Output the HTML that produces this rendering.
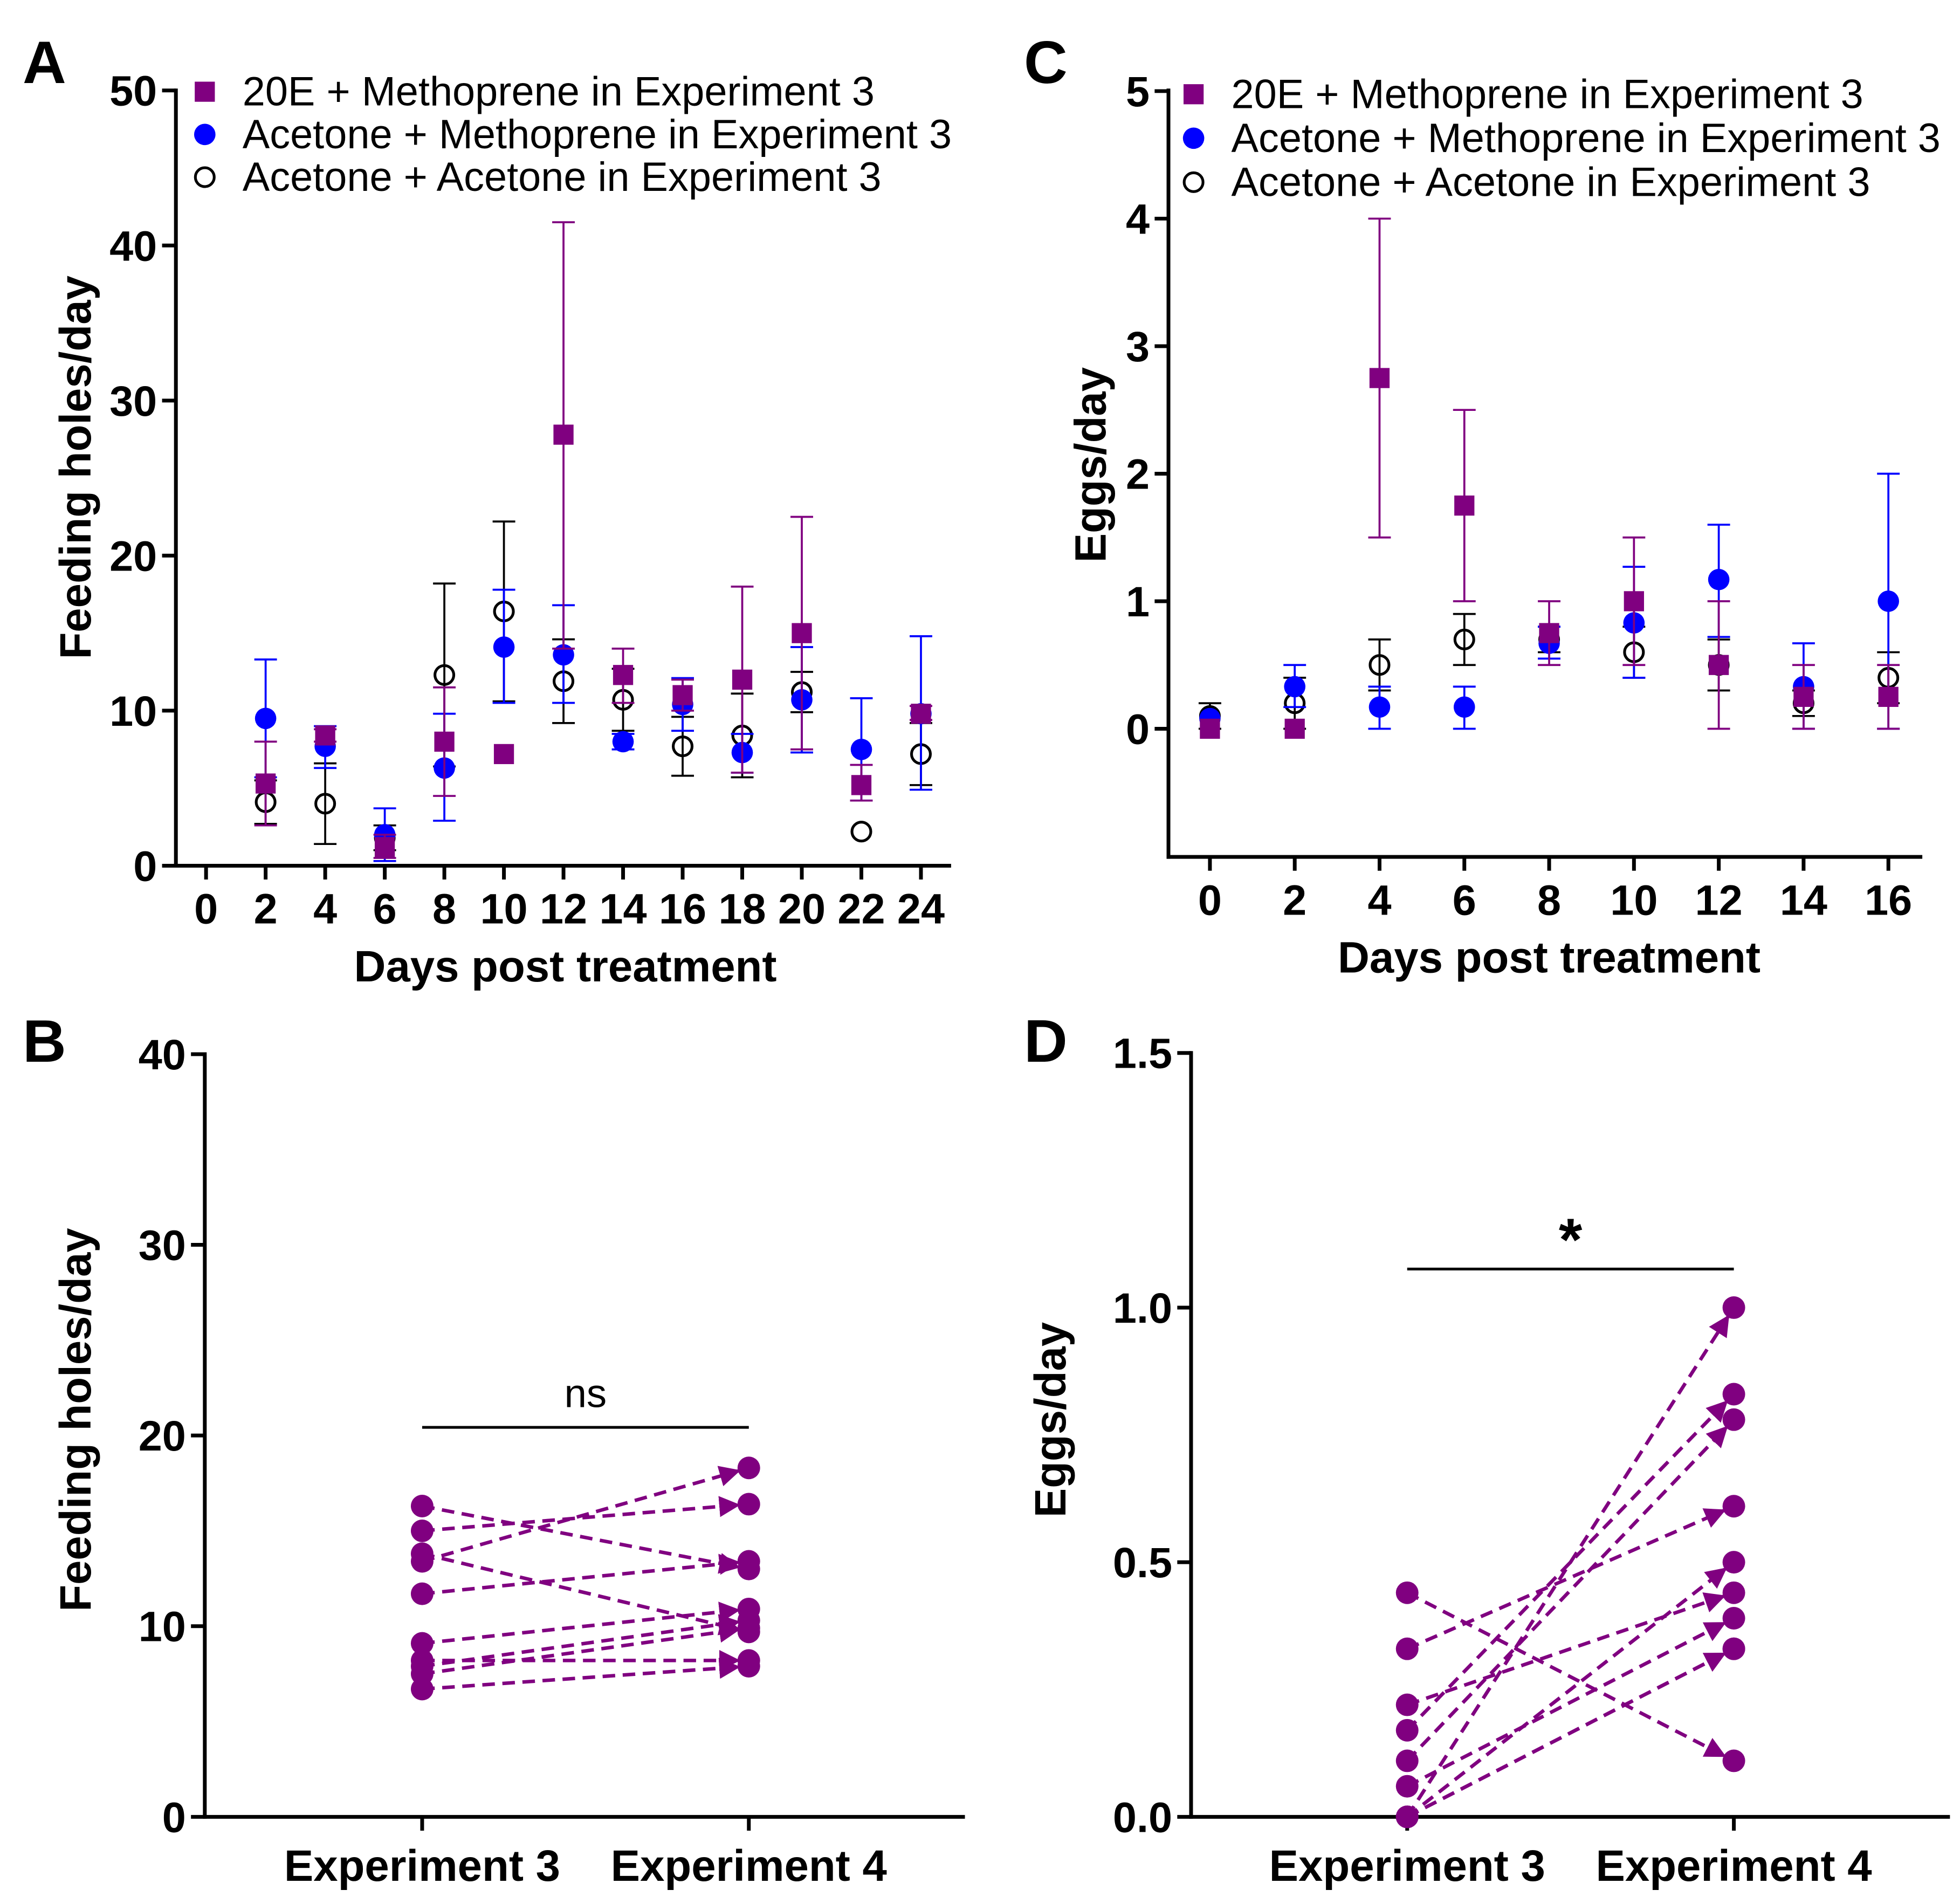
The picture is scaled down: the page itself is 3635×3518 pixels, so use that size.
<!DOCTYPE html>
<html><head><meta charset="utf-8"><style>
html,body{margin:0;padding:0;background:#fff}
svg{display:block}
text{font-family:"Liberation Sans",Arial,sans-serif}
</style></head><body>
<svg id="fig" xmlns="http://www.w3.org/2000/svg" width="3635" height="3518" viewBox="0 0 1560 1509.8" preserveAspectRatio="none">
<defs>
<marker id="arr" markerWidth="6" markerHeight="6" refX="5.2" refY="3" orient="auto" markerUnits="strokeWidth"><path d="M0,0 L6,3 L0,6 z" fill="#800080"/></marker>
</defs>
<g id="root"></g>
</svg>
<script>
// ---------- Panel A data ----------
const daysA = [2,4,6,8,10,12,14,16,18,20,22,24];
const aE20 = [5.3,8.4,1.2,8,7.2,27.8,12.3,11,12,15,5.2,9.8];
const aE20Lo = [2.6,8.0,0.5,4.5,7.2,14,10.5,10,6,7.5,4.2,9.4];
const aE20Hi = [8,8.8,2,11.5,7.2,41.5,14,12,18,22.5,6.5,10.3];
const aBlue = [9.5,7.7,2,6.3,14.1,13.6,8,10.4,7.3,10.7,7.5,9.8];
const aBlueLo = [5.7,6.3,0.3,2.9,10.5,10.5,7.5,8.7,6,7.3,4.2,4.9];
const aBlueHi = [13.3,9,3.7,9.8,17.8,16.8,8.5,12.1,8.5,14.1,10.8,14.8];
const aOpen = [4.1,4,1.8,12.3,16.4,11.9,10.7,7.7,8.4,11.2,2.2,7.2];
const aOpenLo = [2.7,1.4,1,6.4,10.6,9.2,8.7,5.8,5.7,9.9,2.2,5.2];
const aOpenHi = [5.5,6.6,2.6,18.2,22.2,14.6,12.7,9.6,11.1,12.5,2.2,9.2];
const ticksAx = [0,2,4,6,8,10,12,14,16,18,20,22,24];
const ticksAy = [0,10,20,30,40,50];
// ---------- Panel C data ----------
const daysC = [0,2,4,6,8,10,12,14,16];
const cE20 = [0,0,2.75,1.75,0.75,1,0.5,0.25,0.25];
const cE20Lo = [0,0,1.5,1,0.5,0.5,0,0,0];
const cE20Hi = [0,0,4,2.5,1,1.5,1,0.5,0.5];
const cBlue = [0.08,0.33,0.17,0.17,0.67,0.83,1.17,0.33,1];
const cBlueLo = [0.08,0.17,0,0,0.55,0.4,0.72,0,0];
const cBlueHi = [0.08,0.5,0.33,0.33,0.8,1.27,1.6,0.67,2];
const cOpen = [0.1,0.2,0.5,0.7,0.7,0.6,0.5,0.2,0.4];
const cOpenLo = [0,0,0.3,0.5,0.6,0.4,0.3,0.1,0.2];
const cOpenHi = [0.2,0.4,0.7,0.9,0.8,0.8,0.7,0.3,0.6];
const ticksCx = [0,2,4,6,8,10,12,14,16];
const ticksCy = [0,1,2,3,4,5];
// ---------- Panel B data ----------
const bExp3 = [16.3,15.0,13.8,13.4,11.7,9.1,8.2,7.9,7.5,6.7];
const bExp4 = [13.0,16.4,9.7,18.3,13.4,10.9,8.2,10.3,9.9,7.9];
const ticksBy = [0,10,20,30,40];
// ---------- Panel D data ----------
const dExp3 = [0.44,0.33,0.22,0.17,0.11,0.06,0,0,0,0];
const dExp4 = [0.11,0.61,0.44,0.83,0.78,0.39,1.0,0.5,0.33,0.33];
const ticksDy = [0,0.5,1.0,1.5];
const groups = ["Experiment 3","Experiment 4"];
const legendLabels = ["20E + Methoprene in Experiment 3","Acetone + Methoprene in Experiment 3","Acetone + Acetone in Experiment 3"];

const NS="http://www.w3.org/2000/svg";
const root=document.getElementById('root');
const PUR="#800080", BLU="#0000ff";
function mk(tag,attrs,parent){const e=document.createElementNS(NS,tag);for(const k in attrs)e.setAttribute(k,attrs[k]);(parent||root).appendChild(e);return e;}
function txt(s,x,y,size,weight,anchor,parent,rot){const t=mk('text',{x:x,y:y,'font-size':size,'font-weight':weight,'text-anchor':anchor},parent);if(rot)t.setAttribute('transform','rotate(-90 '+x+' '+y+')');t.textContent=s;return t;}
function lin(x1,y1,x2,y2,c,w,parent){return mk('line',{x1:x1,y1:y1,x2:x2,y2:y2,stroke:c,'stroke-width':w},parent);}

function axes(g,o){
  const ax=mk('g',{},g);
  
  
  lin(o.x0,o.yTop-1.5,o.x0,o.yBot+1.5,'#000',3,ax);
  lin(o.x0-1.5,o.yBot,o.x1,o.yBot,'#000',3,ax);
  o.yticks.forEach(v=>{const y=o.sy(v);lin(o.x0-11,y,o.x0,y,'#000',3,ax);
    const t=txt(o.fmt?o.fmt(v):String(v),o.x0-15,y+12,34,'bold','end',ax);
    });
  if(o.xticks) o.xticks.forEach(v=>{const x=o.sx(v);lin(x,o.yBot,x,o.yBot+11,'#000',3,ax);
    const t=txt(String(v),x,o.yBot+46,34,'bold','middle',ax);
    });
}
function errbar(g,x,lo,hi,sy,c){if(hi-lo<=0)return;lin(x,sy(lo),x,sy(hi),c,1.6,g);lin(x-9,sy(lo),x+9,sy(lo),c,1.6,g);lin(x-9,sy(hi),x+9,sy(hi),c,1.6,g);}
function series(g,xs,vals,lo,hi,sx,sy,type,name){
  const sg=mk('g',{},g);
  
  
  const c=type==='sq'?PUR:(type==='dot'?BLU:'#000');
  xs.forEach((d,i)=>errbar(sg,sx(d),lo[i],hi[i],sy,c));
  xs.forEach((d,i)=>{const x=sx(d),y=sy(vals[i]);let m;
    if(type==='sq')m=mk('rect',{x:x-8,y:y-8,width:16,height:16,fill:PUR},sg);
    else if(type==='dot')m=mk('circle',{cx:x,cy:y,r:8.5,fill:BLU},sg);
    else m=mk('circle',{cx:x,cy:y,r:7.5,fill:'none',stroke:'#000','stroke-width':2.2},sg);
    
    });
}
function legend(g,x,ys){
  const lg=mk('g',{},g);
  
  
  ['sq','dot','open'].forEach((t,i)=>{
    const e=mk('g',{},lg);
    
    
    const y=ys[i];
    if(t==='sq')mk('rect',{x:x-8,y:y-8,width:16,height:16,fill:PUR},e);
    else if(t==='dot')mk('circle',{cx:x,cy:y,r:8.5,fill:BLU},e);
    else mk('circle',{cx:x,cy:y,r:7.5,fill:'none',stroke:'#000','stroke-width':2.2},e);
    txt(legendLabels[i],x+30,y+11,32.5,'normal','start',e);
  });
}
function label(s,x,y){const t=txt(s,x,y,48,'bold','start');}

// ----- Panel A -----
(function(){
  const g=mk('g',{});
  const sx=d=>164+d*(733-164)/24, sy=v=>689-v*(689-72)/50;
  axes(g,{x0:140,x1:757,yTop:72,yBot:689,sx:sx,sy:sy,xticks:ticksAx,yticks:ticksAy});
  series(g,daysA,aOpen,aOpenLo,aOpenHi,sx,sy,'open','acetone-acetone-series');
  series(g,daysA,aBlue,aBlueLo,aBlueHi,sx,sy,'dot','acetone-methoprene-series');
  series(g,daysA,aE20,aE20Lo,aE20Hi,sx,sy,'sq','20e-methoprene-series');
  legend(g,163,[73,107,141]);
  let t=txt('Days post treatment',450,781,35,'bold','middle',g);
  t=txt('Feeding holes/day',72,372,35,'bold','middle',g,true);
})();
// ----- Panel C -----
(function(){
  const g=mk('g',{});
  const sx=d=>963+d*(1503-963)/16, sy=v=>580-v*101.5;
  axes(g,{x0:930,x1:1530,yTop:72,yBot:682,sx:sx,sy:sy,xticks:ticksCx,yticks:ticksCy});
  series(g,daysC,cOpen,cOpenLo,cOpenHi,sx,sy,'open','acetone-acetone-series');
  series(g,daysC,cBlue,cBlueLo,cBlueHi,sx,sy,'dot','acetone-methoprene-series');
  series(g,daysC,cE20,cE20Lo,cE20Hi,sx,sy,'sq','20e-methoprene-series');
  legend(g,950,[75,110,145]);
  let t=txt('Days post treatment',1233,774,35,'bold','middle',g);
  t=txt('Eggs/day',880,370,35,'bold','middle',g,true);
})();
// ----- paired panels -----
function paired(name,x0,x1,sy,yt,fmt,e3,e4,xa,xb,ytitle,ytx,yty,sig,sigY,sigSize,sigBold,sigTextY){
  const g=mk('g',{});
  axes(g,{x0:x0,x1:x1,yTop:sy(yt[yt.length-1]),yBot:1446,sx:null,sy:sy,yticks:yt,fmt:fmt});
  [xa,xb].forEach((x,i)=>{lin(x,1446,x,1457,'#000',3,g);
    const t=txt(groups[i],x,1497,35,'bold','middle',g);});
  const pg=mk('g',{},g);
  e3.forEach((v,i)=>{
    const y1=sy(v),y2=sy(e4[i]);const dx=xb-xa,dy=y2-y1,L=Math.hypot(dx,dy);
    const ex=xb-dx/L*9,ey=y2-dy/L*9;
    const l=mk('line',{x1:xa,y1:y1,x2:ex,y2:ey,stroke:PUR,'stroke-width':2.8,'stroke-dasharray':'10,6','marker-end':'url(#arr)'},pg);
    
  });
  e3.forEach((v,i)=>{let c=mk('circle',{cx:xa,cy:sy(v),r:9,fill:PUR},pg);
    c=mk('circle',{cx:xb,cy:sy(e4[i]),r:9,fill:PUR},pg);});
  const s=mk('g',{},g);
  lin(xa,sigY,xb,sigY,'#000',2.2,s);txt(sig,(xa+xb)/2,sigTextY,sigSize,sigBold,'middle',s);
  const t=txt(ytitle,ytx,yty,35,'bold','middle',g,true);
}
paired('panel-b',163,768,v=>1446-v*15.175,ticksBy,null,bExp3,bExp4,336,596,'Feeding holes/day',72,1130,'ns',1136,32,'normal',1120);
paired('panel-d',948,1552,v=>1446-v*405.3,ticksDy,v=>v.toFixed(1),dExp3,dExp4,1120,1380,'Eggs/day',848,1130,'*',1010,48,'bold',1003);
label('A',18,66);label('B',18,845);label('C',815,66);label('D',815,845);
</script>
</body></html>
